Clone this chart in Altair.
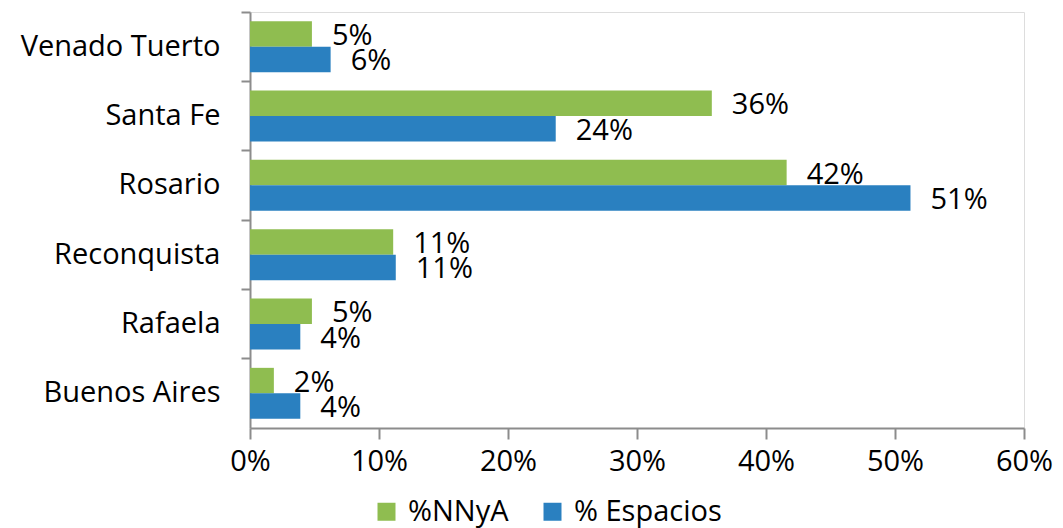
import altair as alt
import pandas as pd

categories = ["Venado Tuerto", "Santa Fe", "Rosario", "Reconquista", "Rafaela", "Buenos Aires"]
series_names = ["%NNyA", "% Espacios"]
nnya = [0.048, 0.358, 0.416, 0.111, 0.048, 0.0185]
espacios = [0.0625, 0.237, 0.512, 0.113, 0.039, 0.039]
x_ticks = [0, 0.1, 0.2, 0.3, 0.4, 0.5, 0.6]
colors = ["#8fbd50", "#2a80c0"]

rows = []
for c, a, b in zip(categories, nnya, espacios):
    rows.append({"cat": c, "serie": series_names[0], "val": a})
    rows.append({"cat": c, "serie": series_names[1], "val": b})
df = pd.DataFrame(rows)

FONT = "Open Sans"
FS = 29

y_enc = alt.Y("cat:N", sort=categories, title=None,
              scale=alt.Scale(paddingInner=0, paddingOuter=0),
              axis=alt.Axis(bandPosition=0, ticks=True, tickSize=9, tickColor="#8c8c8c",
                            domainColor="#8c8c8c", domainWidth=2, tickWidth=2,
                            labelFont=FONT, labelFontSize=FS, labelColor="#000000",
                            labelPadding=21, labelLimit=400, grid=False))
yoff_enc = alt.YOffset("serie:N", sort=series_names,
                       scale=alt.Scale(paddingInner=0, paddingOuter=0.36))
x_enc = alt.X("val:Q", title=None,
              scale=alt.Scale(domain=[0, 0.6], nice=False, zero=True),
              axis=alt.Axis(values=x_ticks, format=".0%", tickSize=11, tickColor="#8c8c8c",
                            domainColor="#8c8c8c", domainWidth=2, tickWidth=2,
                            labelFont=FONT, labelFontSize=FS, labelColor="#000000",
                            labelPadding=8, labelFlush=False, labelOverlap=False,
                            grid=False))

bars = alt.Chart(df).mark_bar().encode(
    y=y_enc,
    yOffset=yoff_enc,
    x=x_enc,
    color=alt.Color("serie:N", sort=series_names,
                    scale=alt.Scale(domain=series_names, range=colors),
                    legend=alt.Legend(title=None, orient="none", direction="horizontal",
                                      legendX=122, legendY=485,
                                      symbolType="square", symbolSize=324,
                                      symbolStrokeWidth=0, columnPadding=29,
                                      labelFont=FONT, labelFontSize=FS,
                                      labelColor="#000000", labelOffset=7)),
)

labels = alt.Chart(df).mark_text(align="left", baseline="middle", dx=20, dy=2,
                                 font=FONT, fontSize=FS, color="#000000").encode(
    y=alt.Y("cat:N", sort=categories),
    yOffset=alt.YOffset("serie:N", sort=series_names),
    x="val:Q",
    text=alt.Text("val:Q", format=".0%"),
)

chart = (bars + labels).properties(
    width=774, height=416,
    autosize=alt.AutoSizeParams(type="none"),
    padding={"left": 242, "top": 4, "right": 31, "bottom": 100},
).configure_view(stroke=None).configure(background="white")

chart.save("out.html", embed_options={"renderer": "svg", "actions": False})
